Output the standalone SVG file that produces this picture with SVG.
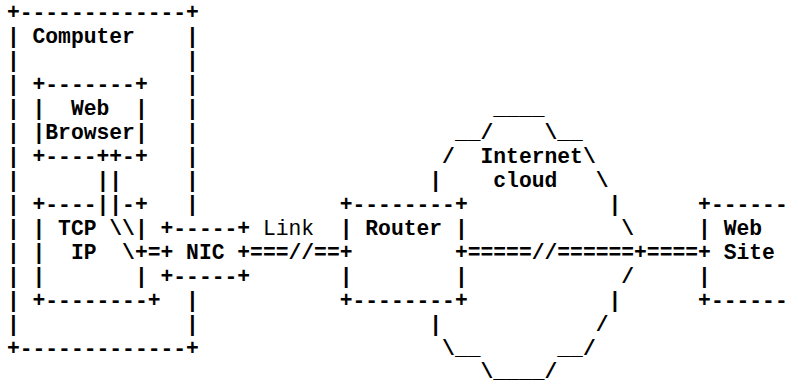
<svg xmlns="http://www.w3.org/2000/svg" width="790" height="383" viewBox="0 0 790 383">
<style>
text{font-family:"Liberation Mono","Courier New",monospace;font-size:21.333px;font-weight:bold;white-space:pre;fill:#000}
.l{font-weight:normal}
</style>
<rect width="790" height="383" fill="#fff"/>
<g id="computer">
<text x="6.9" y="19">+-------------+</text>
<text x="6.9" y="43">|</text><text x="32.5" y="43">Computer</text><text x="186.1" y="43">|</text>
<text x="6.9" y="67">|</text><text x="186.1" y="67">|</text>
<text x="6.9" y="91">|</text><text x="186.1" y="91">|</text>
<text x="6.9" y="115">|</text><text x="186.1" y="115">|</text>
<text x="6.9" y="139">|</text><text x="186.1" y="139">|</text>
<text x="6.9" y="163">|</text><text x="186.1" y="163">|</text>
<text x="6.9" y="187">|</text><text x="186.1" y="187">|</text>
<text x="6.9" y="211">|</text><text x="186.1" y="211">|</text>
<text x="6.9" y="235">|</text>
<text x="6.9" y="259">|</text>
<text x="6.9" y="283">|</text>
<text x="6.9" y="307">|</text><text x="186.1" y="307">|</text>
<text x="6.9" y="331">|</text><text x="186.1" y="331">|</text>
<text x="6.9" y="355">+-------------+</text>
</g>
<g id="browser">
<text x="32.5" y="91">+-------+</text>
<text x="32.5" y="115">|</text><text x="70.9" y="115">Web</text><text x="134.9" y="115">|</text>
<text x="32.5" y="139">|Browser|</text>
<text x="32.5" y="163">+----++-+</text>
</g>
<g id="tcpip">
<text x="32.5" y="211">+----</text><text x="122.1" y="211">-+</text>
<text x="32.5" y="235">|</text><text x="58.1" y="235">TCP</text><text x="134.9" y="235">|</text>
<text x="32.5" y="259">|</text><text x="70.9" y="259">IP</text><text x="134.9" y="259">+</text>
<text x="32.5" y="283">|</text><text x="134.9" y="283">|</text>
<text x="32.5" y="307">+--------+</text>
</g>
<g id="nic">
<text x="160.5" y="235">+-----+</text>
<text x="160.5" y="259">+</text><text x="186.1" y="259">NIC</text><text x="237.3" y="259">+</text>
<text x="160.5" y="283">+-----+</text>
</g>
<g id="router">
<text x="339.7" y="211">+--------+</text>
<text x="339.7" y="235">|</text><text x="365.3" y="235">Router</text><text x="454.9" y="235">|</text>
<text x="339.7" y="259">+</text><text x="454.9" y="259">+</text>
<text x="339.7" y="283">|</text><text x="454.9" y="283">|</text>
<text x="339.7" y="307">+--------+</text>
</g>
<g id="cloud">
<text x="493.3" y="115">____</text>
<text x="454.9" y="139">__/    \__</text>
<text x="442.1" y="163">/</text><text x="480.5" y="163">Internet</text><text x="582.9" y="163">\</text>
<text x="429.3" y="187">|</text><text x="493.3" y="187">cloud</text><text x="595.7" y="187">\</text>
<text x="608.5" y="211">|</text>
<text x="621.3" y="235">\</text>
<text x="621.3" y="283">/</text>
<text x="608.5" y="307">|</text>
<text x="429.3" y="331">|</text><text x="595.7" y="331">/</text>
<text x="442.1" y="355">\__</text><text x="557.3" y="355">__/</text>
<text x="480.5" y="378">\____/</text>
</g>
<g id="website">
<text x="698.1" y="211">+------</text>
<text x="698.1" y="235">|</text><text x="723.7" y="235">Web</text>
<text x="698.1" y="259">+</text><text x="723.7" y="259">Site</text>
<text x="698.1" y="283">|</text>
<text x="698.1" y="307">+------</text>
</g>
<g id="connectors">
<text x="96.5" y="187">||</text>
<text x="96.5" y="211">||</text>
<text x="109.3" y="235">\\</text>
<text x="122.1" y="259">\</text><text x="147.7" y="259">=</text>
<text class="l" x="262.9" y="235">Link</text>
<text x="250.1" y="259">===//==</text>
<text x="467.7" y="259">=====//======+====</text>
</g>
</svg>
